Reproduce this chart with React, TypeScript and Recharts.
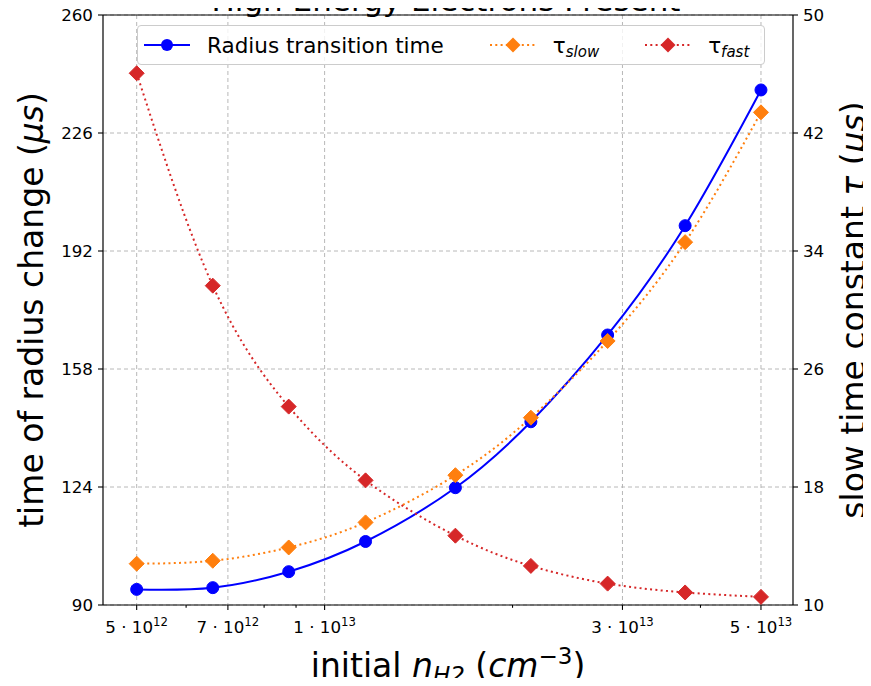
import { LineChart, Line, XAxis, YAxis, CartesianGrid, Legend, ReferenceLine } from 'recharts';

const FONT = '"DejaVu Sans", sans-serif';

// initial n_H2 (cm^-3)
const nH2 = [5.0e12, 6.62e12, 8.76e12, 1.163e13, 1.62e13, 2.14e13, 2.84e13, 3.78e13, 5.0e13];
// time of radius change (us), left axis
const radiusTime = [94.5, 95.0, 99.6, 108.3, 123.8, 142.8, 167.8, 199.3, 238.4];
// tau slow (us), right axis
const tauSlow = [12.8, 13.0, 13.9, 15.6, 18.8, 22.7, 27.9, 34.6, 43.4];
// tau fast (us), right axis
const tauFast = [46.05, 31.65, 23.45, 18.45, 14.7, 12.65, 11.45, 10.85, 10.55];

const xMajorTicks = [5e12, 7e12, 1e13, 3e13, 5e13];
const xMinorTicks = [6e12, 8e12, 9e12, 2e13, 4e13];
const leftTicks = [90, 124, 158, 192, 226, 260];
const rightTicks = [10, 18, 26, 34, 42, 50];

const data = nH2.map((x, i) => ({ x, radius: radiusTime[i], slow: tauSlow[i], fast: tauFast[i] }));

const BLUE = '#0000ff';
const ORANGE = '#ff7f0e';
const RED = '#d62728';
const DOTS = '2 3.3';

const XTick = (props: any) => {
  const { x, y, payload } = props;
  const v = payload.value;
  const major = xMajorTicks.some((t) => Math.abs(t - v) / t < 1e-6);
  const exp = Math.floor(Math.log10(v) + 1e-9);
  const mant = Math.round(v / Math.pow(10, exp));
  return (
    <g>
      <line x1={x} x2={x} y1={y} y2={y + (major ? 4.9 : 2.8)} stroke="#000" strokeWidth={1.1} />
      {major && (
        <text x={x} y={y + 28} textAnchor="middle" fontFamily={FONT} fontSize={16.7} fill="#000">
          <tspan>{`${mant} · 10`}</tspan>
          <tspan fontSize={11.7} dy={-7}>{exp}</tspan>
        </text>
      )}
    </g>
  );
};

const LeftLabel = (props: any) => {
  const vb = props.viewBox;
  const cx = vb.x + 43;
  const cy = vb.y + vb.height / 2;
  return (
    <text x={cx} y={cy} transform={`rotate(-90, ${cx}, ${cy})`} textAnchor="middle" fontFamily={FONT} fontSize={33} fill="#000">
      <tspan>time of radius change (</tspan>
      <tspan fontStyle="italic">μs</tspan>
      <tspan>)</tspan>
    </text>
  );
};

const RightLabel = (props: any) => {
  const vb = props.viewBox;
  const cx = vb.x + 72;
  const cy = vb.y + vb.height / 2;
  return (
    <text x={cx} y={cy} transform={`rotate(-90, ${cx}, ${cy})`} textAnchor="middle" fontFamily={FONT} fontSize={33} fill="#000">
      <tspan>slow time constant </tspan>
      <tspan fontStyle="italic">τ</tspan>
      <tspan> (</tspan>
      <tspan fontStyle="italic">μs</tspan>
      <tspan>)</tspan>
    </text>
  );
};

const BottomLabel = (props: any) => {
  const vb = props.viewBox;
  const cx = vb.x + vb.width / 2;
  const cy = vb.y + 72;
  return (
    <text x={cx} y={cy} textAnchor="middle" fontFamily={FONT} fontSize={33} fill="#000">
      <tspan>initial </tspan>
      <tspan fontStyle="italic">n</tspan>
      <tspan fontStyle="italic" fontSize={23} dy={6}>H2</tspan>
      <tspan dy={-6}> (</tspan>
      <tspan fontStyle="italic">cm</tspan>
      <tspan fontSize={23} dy={-13}>−3</tspan>
      <tspan dy={13}>)</tspan>
    </text>
  );
};

const diamond = (color: string) => (props: any) => {
  const { cx, cy, index } = props;
  if (cx == null || cy == null) return <g key={index} />;
  const r = 7.5;
  return (
    <polygon
      key={index}
      points={`${cx},${cy - r} ${cx + r},${cy} ${cx},${cy + r} ${cx - r},${cy}`}
      fill={color}
      stroke={color}
      strokeWidth={1}
    />
  );
};

const circle = (color: string) => (props: any) => {
  const { cx, cy, index } = props;
  if (cx == null || cy == null) return <g key={index} />;
  return <circle key={index} cx={cx} cy={cy} r={6} fill={color} stroke={color} strokeWidth={1} />;
};

const Handle = ({ color, dotted, shape }: { color: string; dotted: boolean; shape: 'circle' | 'diamond' }) => (
  <svg width={46} height={20} style={{ display: 'block' }}>
    <line x1={0} x2={46} y1={10} y2={10} stroke={color} strokeWidth={2} strokeDasharray={dotted ? DOTS : undefined} />
    {shape === 'circle' ? (
      <circle cx={23} cy={10} r={6} fill={color} />
    ) : (
      <polygon points="23,2.5 30.5,10 23,17.5 15.5,10" fill={color} />
    )}
  </svg>
);

const LegendBox = () => {
  const item = { display: 'flex', alignItems: 'center', gap: 17 } as const;
  return (
    <div
      style={{
        boxSizing: 'border-box',
        width: 628,
        height: 40,
        border: '1px solid #cccccc',
        borderRadius: 4,
        background: 'rgba(255,255,255,0.8)',
        display: 'flex',
        alignItems: 'center',
        gap: 46,
        paddingLeft: 6,
        fontFamily: FONT,
        fontSize: 21.5,
        color: '#000',
      }}
    >
      <div style={item}>
        <Handle color={BLUE} dotted={false} shape="circle" />
        <span>Radius transition time</span>
      </div>
      <div style={item}>
        <Handle color={ORANGE} dotted shape="diamond" />
        <span>
          τ<span style={{ fontStyle: 'italic', fontSize: 15, position: 'relative', top: 4 }}>slow</span>
        </span>
      </div>
      <div style={item}>
        <Handle color={RED} dotted shape="diamond" />
        <span>
          τ<span style={{ fontStyle: 'italic', fontSize: 15, position: 'relative', top: 4 }}>fast</span>
        </span>
      </div>
    </div>
  );
};

export default function App() {
  return (
    <div style={{ margin: -8, width: 871, height: 686, position: 'relative', background: '#fff' }}>
      <LineChart width={871} height={686} data={data} margin={{ top: 15, right: 0, bottom: 0, left: 0 }}>
        <text x={446} y={11} textAnchor="middle" fontFamily={FONT} fontSize={31} fill="#000">
          High Energy Electrons Present
        </text>
        <CartesianGrid
          yAxisId="left"
          stroke="#b0b0b0"
          strokeDasharray="4 3"
          strokeWidth={0.9}
          verticalValues={xMajorTicks}
          horizontalValues={leftTicks}
        />
        <XAxis
          dataKey="x"
          type="number"
          scale="log"
          domain={[4.416e12, 5.627e13]}
          allowDataOverflow
          ticks={[...xMajorTicks, ...xMinorTicks].sort((a, b) => a - b)}
          interval={0}
          tick={<XTick />}
          tickLine={false}
          tickSize={0}
          tickMargin={0}
          height={81}
          axisLine={{ stroke: '#000', strokeWidth: 1.2 }}
          label={<BottomLabel />}
        />
        <YAxis
          yAxisId="left"
          orientation="left"
          domain={[90, 260]}
          ticks={leftTicks}
          interval={0}
          width={103}
          tickSize={5}
          tickMargin={5}
          tickLine={{ stroke: '#000', strokeWidth: 1.1 }}
          axisLine={{ stroke: '#000', strokeWidth: 1.2 }}
          tick={{ fill: '#000', fontSize: 16.7, fontFamily: FONT }}
          label={<LeftLabel />}
        />
        <YAxis
          yAxisId="right"
          orientation="right"
          domain={[10, 50]}
          ticks={rightTicks}
          interval={0}
          width={78}
          tickSize={5}
          tickMargin={5}
          tickLine={{ stroke: '#000', strokeWidth: 1.1 }}
          axisLine={{ stroke: '#000', strokeWidth: 1.2 }}
          tick={{ fill: '#000', fontSize: 16.7, fontFamily: FONT, textAnchor: 'start' }}
          label={<RightLabel />}
        />
        <ReferenceLine yAxisId="left" y={260} stroke="#000" strokeWidth={1.2} />
        <Line
          yAxisId="left"
          type="natural"
          dataKey="radius"
          stroke={BLUE}
          strokeWidth={2}
          dot={circle(BLUE)}
          activeDot={false}
          isAnimationActive={false}
        />
        <Line
          yAxisId="right"
          type="natural"
          dataKey="slow"
          stroke={ORANGE}
          strokeWidth={2}
          strokeDasharray={DOTS}
          dot={diamond(ORANGE)}
          activeDot={false}
          isAnimationActive={false}
        />
        <Line
          yAxisId="right"
          type="natural"
          dataKey="fast"
          stroke={RED}
          strokeWidth={2}
          strokeDasharray={DOTS}
          dot={diamond(RED)}
          activeDot={false}
          isAnimationActive={false}
        />
        <Legend
          layout="horizontal"
          verticalAlign="middle"
          align="center"
          wrapperStyle={{ top: 25, left: 137, width: 628, height: 40 }}
          content={<LegendBox />}
        />
      </LineChart>
    </div>
  );
}
